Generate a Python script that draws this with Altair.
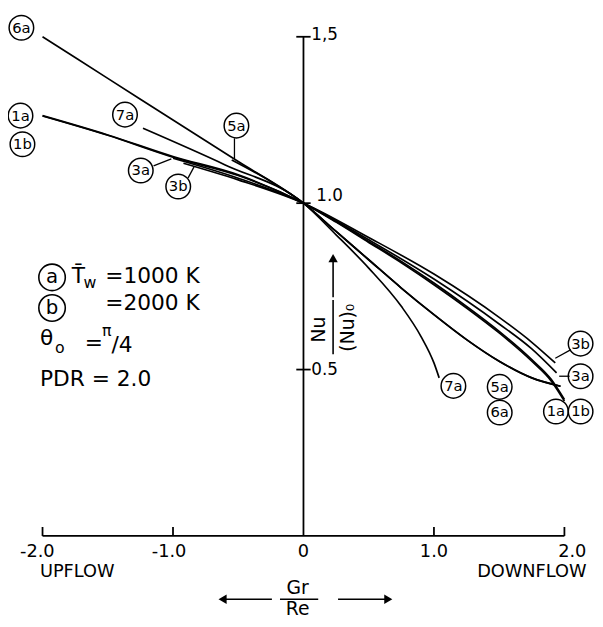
import altair as alt
import pandas as pd

# ---------------- curve data (Gr/Re, Nu/(Nu)0) ----------------
c1a_x = [-2.0, -1.5, -1.0, -0.5, 0.0, 0.25, 0.5, 0.75, 1.0, 1.25, 1.5, 1.75, 1.9, 2.0]
c1a_y = [1.263, 1.205, 1.14, 1.085, 1.0, 0.945, 0.885, 0.825, 0.76, 0.69, 0.615, 0.53, 0.47, 0.41]
c1b_x = [-2.0, -1.5, -1.0, -0.5, 0.0, 0.25, 0.5, 0.75, 1.0, 1.25, 1.5, 1.75, 1.9, 2.0]
c1b_y = [1.262, 1.204, 1.138, 1.083, 1.0, 0.943, 0.882, 0.821, 0.755, 0.685, 0.61, 0.525, 0.465, 0.405]
c3a_x = [-1.0, -0.5, 0.0, 0.5, 1.0, 1.5, 1.75, 1.94]
c3a_y = [1.135, 1.075, 1.0, 0.89, 0.772, 0.637, 0.562, 0.49]
c3b_x = [-0.92, -0.5, 0.0, 0.5, 1.0, 1.5, 1.75, 1.93]
c3b_y = [1.12, 1.07, 1.0, 0.897, 0.787, 0.657, 0.582, 0.52]
c5a_x = [-0.55, -0.25, 0.0, 0.25, 0.5, 0.75, 1.0, 1.25, 1.5, 1.75, 1.97]
c5a_y = [1.13, 1.065, 1.0, 0.915, 0.83, 0.745, 0.665, 0.59, 0.525, 0.475, 0.45]
c6a_x = [-2.0, -1.5, -1.0, -0.5, 0.0, 0.25, 0.5, 0.75, 1.0, 1.25, 1.5, 1.75, 1.97]
c6a_y = [1.5, 1.375, 1.25, 1.125, 1.0, 0.915, 0.83, 0.745, 0.665, 0.59, 0.525, 0.475, 0.45]
c7a_x = [-1.23, -0.6, 0.0, 0.25, 0.5, 0.75, 0.9, 1.0, 1.04]
c7a_y = [1.225, 1.115, 1.0, 0.905, 0.805, 0.69, 0.6, 0.52, 0.475]

curves = {"1a": (c1a_x, c1a_y), "1b": (c1b_x, c1b_y), "3a": (c3a_x, c3a_y),
          "3b": (c3b_x, c3b_y), "5a": (c5a_x, c5a_y), "6a": (c6a_x, c6a_y),
          "7a": (c7a_x, c7a_y)}

# circled curve labels
lab_text = ["6a", "1a", "1b", "7a", "5a", "3a", "3b",
            "3b", "3a", "7a", "5a", "6a", "1a", "1b"]
lab_x = [-2.162, -2.169, -2.154, -1.368, -0.514, -1.247, -0.960,
         2.124, 2.124, 1.149, 1.504, 1.504, 1.935, 2.124]
lab_y = [1.527, 1.263, 1.177, 1.266, 1.233, 1.098, 1.050,
         0.578, 0.480, 0.451, 0.448, 0.371, 0.374, 0.374]

# leader lines
lead_x = [-0.529, -1.149, -0.884, 2.05, 2.04]
lead_x2 = [-0.529, -1.013, -0.839, 1.93, 1.96]
lead_y = [1.195, 1.112, 1.076, 0.560, 0.48]
lead_y2 = [1.133, 1.133, 1.109, 0.534, 0.48]

# axes
xtick_vals = [-2.0, -1.0, 1.0, 2.0]
xtick_text = ["-2.0", "-1.0", "0", "1.0", "2.0"]
xtick_text_x = [-2.04, -1.03, 0.0, 1.0, 2.06]
ytick_vals = [0.5, 1.0, 1.5]
ytick_text = ["0.5", "1.0", "1,5"]
ytick_text_x = [0.06, 0.098, 0.06]
ytick_text_y = [0.5, 1.02, 1.505]

FONT = "DejaVu Sans"
XS = alt.Scale(domain=[-2, 2], nice=False, zero=False)
YS = alt.Scale(domain=[0, 1.5], nice=False, zero=False)


def X(f="x"):
    return alt.X(f"{f}:Q", scale=XS, axis=None)


def Y(f="y"):
    return alt.Y(f"{f}:Q", scale=YS, axis=None)


rows = []
for name, (xs, ys) in curves.items():
    for a, b in zip(xs, ys):
        rows.append({"x": a, "y": b, "curve": name})
cdf = pd.DataFrame(rows)

lines = alt.Chart(cdf).mark_line(color="black", strokeWidth=1.7, interpolate="monotone").encode(
    x=X(), y=Y(), detail="curve:N", order="x:Q")

ldf = pd.DataFrame({"x": lab_x, "y": lab_y, "t": lab_text})
circles = alt.Chart(ldf).mark_point(shape="circle", size=620, filled=False, color="black",
                                    strokeWidth=1.5, opacity=1).encode(x=X(), y=Y())
circ_text = alt.Chart(ldf).mark_text(font=FONT, fontSize=15, color="black", align="center",
                                     baseline="middle").encode(x=X(), y=Y(), text="t:N")

lead_df = pd.DataFrame({"x": lead_x, "x2": lead_x2, "y": lead_y, "y2": lead_y2})
leads = alt.Chart(lead_df).mark_rule(color="black", strokeWidth=1.3).encode(
    x=X(), x2="x2:Q", y=Y(), y2="y2:Q")

# axis lines and ticks
ax_df = pd.DataFrame({"x": [-2.0, 0.0], "x2": [2.0, 0.0], "y": [0.0, 0.0], "y2": [0.0, 1.5]})
axes_lines = alt.Chart(ax_df).mark_rule(color="black", strokeWidth=1.8).encode(
    x=X(), x2="x2:Q", y=Y(), y2="y2:Q")
xt_df = pd.DataFrame({"x": xtick_vals, "y": [0.0] * 4, "y2": [0.027] * 4})
xticks = alt.Chart(xt_df).mark_rule(color="black", strokeWidth=1.8).encode(
    x=X(), y=Y(), y2="y2:Q")
yt_df = pd.DataFrame({"x": [-0.055] * 3, "x2": [0.055] * 3, "y": ytick_vals})
yticks = alt.Chart(yt_df).mark_rule(color="black", strokeWidth=1.8).encode(
    x=X(), x2="x2:Q", y=Y())

xl_df = pd.DataFrame({"x": xtick_text_x, "y": [-0.047] * 5, "t": xtick_text})
xlabels = alt.Chart(xl_df).mark_text(font=FONT, fontSize=18, align="center",
                                     baseline="middle").encode(x=X(), y=Y(), text="t:N")
yl_df = pd.DataFrame({"x": ytick_text_x, "y": ytick_text_y, "t": ytick_text})
ylabels = alt.Chart(yl_df).mark_text(font=FONT, fontSize=17, align="left",
                                     baseline="middle").encode(x=X(), y=Y(), text="t:N")

flow_df = pd.DataFrame({"x": [-2.02], "y": [-0.107], "t": ["UPFLOW"]})
upflow = alt.Chart(flow_df).mark_text(font=FONT, fontSize=18, align="left",
                                      baseline="middle").encode(x=X(), y=Y(), text="t:N")
down_df = pd.DataFrame({"x": [2.17], "y": [-0.107], "t": ["DOWNFLOW"]})
downflow = alt.Chart(down_df).mark_text(font=FONT, fontSize=18, align="right",
                                        baseline="middle").encode(x=X(), y=Y(), text="t:N")

# Gr / Re title with arrows
gr_df = pd.DataFrame({"x": [-0.045, -0.045], "y": [-0.175, -0.237], "t": ["Gr", "Re"]})
gr_text = alt.Chart(gr_df).mark_text(font=FONT, fontSize=19, align="center",
                                     baseline="alphabetic").encode(x=X(), y=Y(), text="t:N")
grbar_df = pd.DataFrame({"x": [-0.18, -0.242, 0.265], "x2": [0.113, -0.62, 0.65],
                         "y": [-0.19, -0.19, -0.19]})
grbar = alt.Chart(grbar_df).mark_rule(color="black", strokeWidth=1.6).encode(
    x=X(), x2="x2:Q", y=Y())
head_l = alt.Chart(pd.DataFrame({"x": [-0.62], "y": [-0.19]})).mark_point(
    shape="triangle-left", size=90, filled=True, color="black", opacity=1).encode(x=X(), y=Y())
head_r = alt.Chart(pd.DataFrame({"x": [0.65], "y": [-0.19]})).mark_point(
    shape="triangle-right", size=90, filled=True, color="black", opacity=1).encode(x=X(), y=Y())

# Nu / (Nu)0 title, rotated, with arrow
nu_df = pd.DataFrame({"x": [0.121, 0.34], "y": [0.62, 0.626], "t": ["Nu", "(Nu)₀"]})
nu_text = alt.Chart(nu_df).mark_text(font=FONT, fontSize=19, angle=270, align="center",
                                     baseline="middle").encode(x=X(), y=Y(), text="t:N")
nubar_df = pd.DataFrame({"x": [0.227, 0.227], "y": [0.546, 0.717], "y2": [0.709, 0.83]})
nubar = alt.Chart(nubar_df).mark_rule(color="black", strokeWidth=1.6).encode(
    x=X(), y=Y(), y2="y2:Q")
head_u = alt.Chart(pd.DataFrame({"x": [0.227], "y": [0.835]})).mark_point(
    shape="triangle-up", size=90, filled=True, color="black", opacity=1).encode(x=X(), y=Y())

# parameter block
leg_c_df = pd.DataFrame({"x": [-1.927, -1.927], "y": [0.777, 0.685], "t": ["a", "b"]})
leg_circ = alt.Chart(leg_c_df).mark_point(shape="circle", size=720, filled=False, color="black",
                                          strokeWidth=1.6, opacity=1).encode(x=X(), y=Y())
leg_ctext = alt.Chart(leg_c_df).mark_text(font=FONT, fontSize=20, align="center",
                                          baseline="middle").encode(x=X(), y=Y(), text="t:N")
par_text = ["T\u0304", "=1000  K", "=2000  K", "θ", "=", "/4", "PDR = 2.0"]
par_x = [-1.776, -1.519, -1.519, -2.02, -1.676, -1.471, -2.02]
par_y = [0.782, 0.78, 0.70, 0.596, 0.581, 0.575, 0.471]
par_df = pd.DataFrame({"x": par_x, "y": par_y, "t": par_text})
params = alt.Chart(par_df).mark_text(font=FONT, fontSize=22, align="left",
                                     baseline="middle").encode(x=X(), y=Y(), text="t:N")
sub_text = ["w", "o", "π"]
sub_x = [-1.686, -1.905, -1.545]
sub_y = [0.759, 0.566, 0.617]
sub_df = pd.DataFrame({"x": sub_x, "y": sub_y, "t": sub_text})
subs = alt.Chart(sub_df).mark_text(font=FONT, fontSize=16, align="left",
                                   baseline="middle").encode(x=X(), y=Y(), text="t:N")

chart = alt.layer(
    axes_lines, xticks, yticks, lines, leads, circles, circ_text,
    xlabels, ylabels, upflow, downflow, gr_text, grbar, head_l, head_r,
    nu_text, nubar, head_u, leg_circ, leg_ctext, params, subs
).properties(
    width=529, height=506,
    padding={"left": 35, "top": 25, "right": 31, "bottom": 80},
    autosize=alt.AutoSizeParams(type="none"),
    background="white",
).configure_view(stroke=None)

chart.save("out.html", embed_options={"renderer": "svg", "actions": False})
